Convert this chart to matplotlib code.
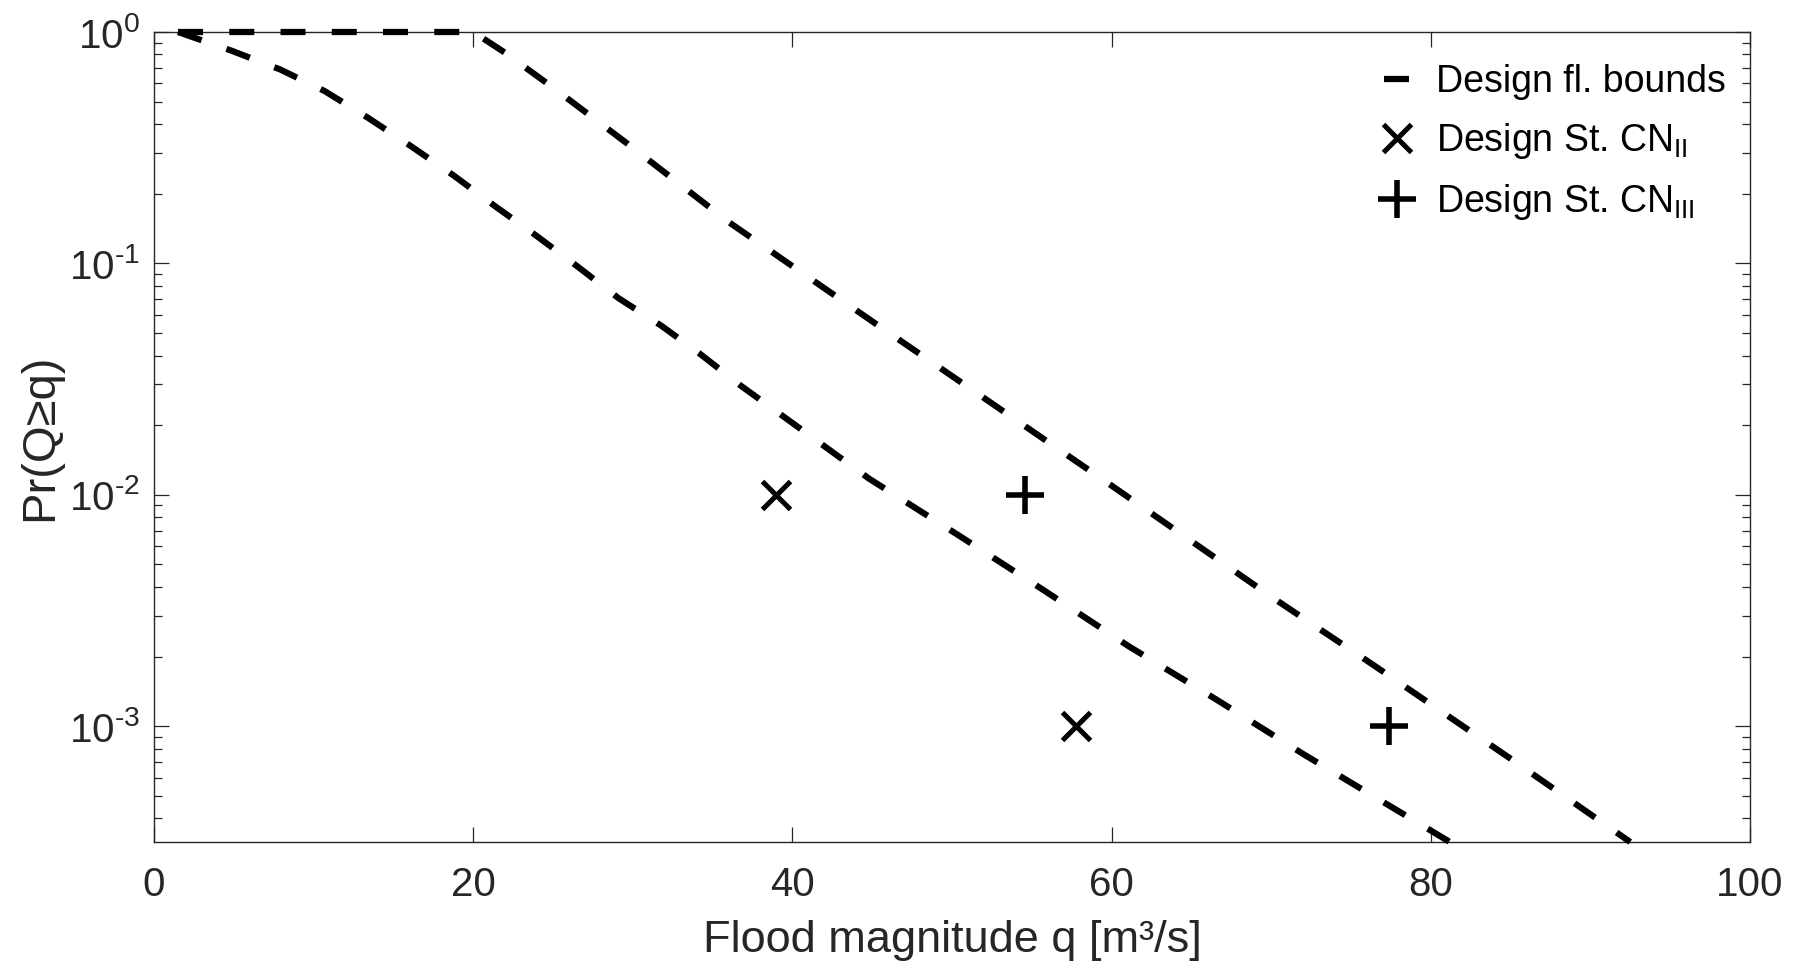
import numpy as np
import matplotlib
matplotlib.use("Agg")
import matplotlib.pyplot as plt
from matplotlib.ticker import LogLocator, FuncFormatter, NullFormatter, FixedLocator

# Fonts: Arial-like look, mathtext in the same family
plt.rcParams['font.family'] = ['Liberation Sans', 'DejaVu Sans']
plt.rcParams['mathtext.fontset'] = 'custom'
plt.rcParams['mathtext.rm'] = 'Liberation Sans'
plt.rcParams['mathtext.it'] = 'Liberation Sans:italic'
plt.rcParams['mathtext.default'] = 'regular'

# Design flood bounds
upper_q = [1.5, 20, 22, 25, 30, 36, 45, 52.4, 60, 70, 76.3, 85, 92.5]
upper_p = [1, 1, 0.813, 0.575, 0.316, 0.151, 0.0562, 0.0251, 0.01096,
           0.00363, 0.00186, 0.000724, 0.000316]

lower_q = [1.5, 4.9, 7.9, 10.7, 13.4, 16.1, 18.8, 21.4, 24.0, 26.6, 29.1,
           31.8, 34.2, 36.8, 39.6, 44.8, 50.3, 55.7, 61.1, 66.6, 72.0, 81.2]
lower_p = [1, 0.828, 0.689, 0.555, 0.426, 0.321, 0.239, 0.176, 0.131, 0.0962,
           0.0708, 0.0537, 0.0407, 0.0295, 0.0214, 0.01175, 0.00676, 0.00389,
           0.00221, 0.0013, 0.000759, 0.000316]

# Design storms
cn2_q = [39.0, 57.8]
cn2_p = [1e-2, 1e-3]
cn3_q = [54.6, 77.4]
cn3_p = [1e-2, 1e-3]

x_ticks = [0, 20, 40, 60, 80, 100]


def pow10_label(v, pos):
    # MATLAB style 10^-n with a plain hyphen
    e = int(round(np.log10(v)))
    return r'$10^{\text{%d}}$' % e


fig = plt.figure(figsize=(18, 9.64), dpi=100)
ax = fig.add_axes([0.0856, 0.1266, 0.8866, 0.8402])

dash = (0, (4, 4.2))
ax.plot(upper_q, upper_p, color='k', lw=4.5, ls=dash, clip_on=False,
        zorder=3, label='Design fl. bounds')
ax.plot(lower_q, lower_p, color='k', lw=4.5, ls=dash, clip_on=False, zorder=3)
ax.plot(cn2_q, cn2_p, 'x', color='k', ms=20, mew=3.6, ls='none',
        label=r'Design St. CN$_{\mathrm{II}}$')
ax.plot(cn3_q, cn3_p, '+', color='k', ms=28, mew=4.0, ls='none',
        label=r'Design St. CN$_{\mathrm{III}}$')

ax.set_yscale('log')
ax.set_xlim(0, 100)
ax.set_ylim(10 ** -3.5, 1)

ax.xaxis.set_major_locator(FixedLocator(x_ticks))
ax.yaxis.set_major_locator(LogLocator(base=10, numticks=10))
ax.yaxis.set_minor_locator(LogLocator(base=10, subs=np.arange(2, 10), numticks=20))
ax.yaxis.set_major_formatter(FuncFormatter(pow10_label))
ax.yaxis.set_minor_formatter(NullFormatter())

gray = '#262626'
for s in ax.spines.values():
    s.set_color(gray)
    s.set_linewidth(1.0)
ax.tick_params(which='both', direction='in', top=True, right=True,
               color=gray, labelcolor=gray, width=0.9)
ax.tick_params(which='major', length=11, labelsize=29)
ax.tick_params(which='minor', length=6)
ax.tick_params(axis='x', pad=17)
ax.tick_params(axis='y', pad=10)

ax.set_xlabel('Flood magnitude q [m³/s]', fontsize=32.5, color=gray, va='center')
ax.xaxis.set_label_coords(0.5, -0.122)
ax.set_ylabel('Pr(Q≥q)', fontsize=34, color=gray, va='center')
ax.yaxis.set_label_coords(-0.0714, 0.5)

ax.legend(loc='upper right', bbox_to_anchor=(0.985, 0.96), frameon=False,
          fontsize=27, handlelength=0.7, handletextpad=0.7,
          borderaxespad=0, borderpad=0, labelspacing=0.55)

fig.savefig('out.png', dpi=100)
